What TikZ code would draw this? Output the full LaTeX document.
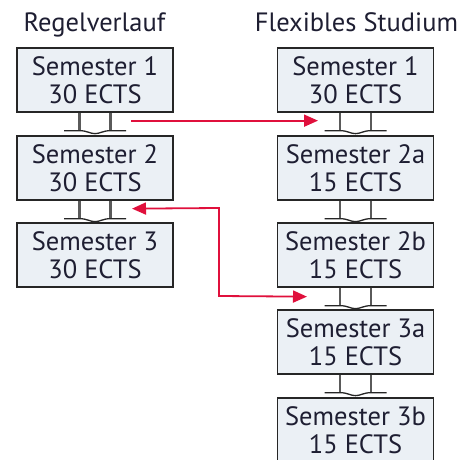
\documentclass[tikz,border=0pt]{standalone}
\usepackage{fontspec}
\setmainfont{PT Sans}
\usetikzlibrary{arrows.meta,calc}
\definecolor{boxfill}{HTML}{EBF0F5}
\definecolor{arr}{HTML}{E0103C}
\definecolor{stubc}{HTML}{5A5A5A}
\definecolor{txt}{HTML}{1E1E32}
\tikzset{
  sem/.style={draw=black!85, line width=1.3pt, fill=boxfill, minimum width=156pt,
    minimum height=64pt, inner sep=0pt, align=center,
    font=\fontsize{26.5}{28}\selectfont, text=txt},
  ttl/.style={font=\fontsize{26.5}{28}\selectfont, text=txt, inner sep=0pt, anchor=base},
  stubline/.style={draw=stubc, line width=2.5pt},
  foot/.style={draw=black!85, line width=1.3pt},
  redarrow/.style={draw=arr, line width=1.8pt},
  tip/.style={-{Triangle[length=14pt,width=12pt]}},
}
\newcommand\joinpair[2]{%
  \begin{scope}[shift={(#1.south)}]
    \draw[stubline] (-15.5,0) -- (-15.5,18);
    \draw[stubline] (15.5,0) -- (15.5,18);
    \draw[foot] (-31,18) -- (-15.5,18) .. controls (-8,18) and (-5,21) .. (0,21)
      .. controls (5,21) and (8,18) .. (15.5,18) -- (31,18);
  \end{scope}}
\begin{document}
\begin{tikzpicture}[x=1pt,y=-1pt]
  \useasboundingbox (0,0) rectangle (469,460);
  \clip (0,0) rectangle (469,460);
  \node[ttl] (tl) at (94.5,32) {Regelverlauf};
  \node[ttl] (tr) at (356.5,32) {Flexibles Studium};
  % left column
  \node[sem] (l1) at (95,80) {Semester 1\\30 ECTS};
  \node[sem] (l2) at (95,168) {Semester 2\\30 ECTS};
  \node[sem] (l3) at (95,255) {Semester 3\\30 ECTS};
  % right column
  \node[sem] (r1) at (355.5,80) {Semester 1\\30 ECTS};
  \node[sem] (r2a) at (355.5,168) {Semester 2a\\15 ECTS};
  \node[sem] (r2b) at (355.5,255) {Semester 2b\\15 ECTS};
  \node[sem] (r3a) at (355.5,342) {Semester 3a\\15 ECTS};
  \node[sem] (r3b) at (355.5,430) {Semester 3b\\15 ECTS};
  \joinpair{l1}{l2}
  \joinpair{l2}{l3}
  \joinpair{r1}{r2a}
  \joinpair{r2a}{r2b}
  \joinpair{r2b}{r3a}
  \joinpair{r3a}{r3b}
  % red arrows
  \coordinate (a1s) at ($(l1.south)+(36,8)$);
  \coordinate (a1e) at ($(r1.south)+(-37.5,8)$);
  \draw[redarrow,tip] (a1s) -- (a1e);
  \coordinate (a2s) at ($(r2b.south)+(-48.5,9)$);
  \coordinate (a2e) at ($(l2.south)+(37,8)$);
  \draw[redarrow,{Triangle[length=14pt,width=12pt]}-{Triangle[length=14pt,width=12pt]}]
    (a2s) -- (219,296) -- (219,208) -- (a2e);
\end{tikzpicture}
\end{document}
